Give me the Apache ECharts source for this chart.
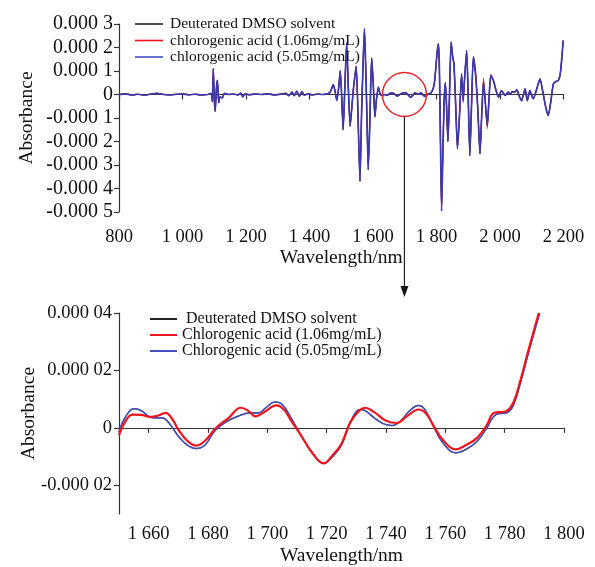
<!DOCTYPE html>
<html><head><meta charset="utf-8">
<script src="https://cdn.jsdelivr.net/npm/echarts@6/dist/echarts.min.js"></script>
<style>html,body{margin:0;padding:0;background:#fff}#c{width:595px;height:567px}</style>
</head><body><div id="c"></div>
<script>
// ---------- Top panel: full spectrum (absorbance in units of 1e-4) ----------
const topWave = [800,820,840,860,880,900,920,940,960,980,1000,1020,1040,1060,1080,1090,1094,1097,1100,1103,1107,1110,1114,1118,1125,1132,1145,1160,1175,1183,1190,1197,1210,1230,1250,1270,1290,1310,1325,1335,1345,1352,1360,1368,1376,1384,1395,1410,1425,1440,1455,1465,1475,1481,1486,1492,1497,1502,1506,1511,1517,1522,1528,1533,1538,1547,1552,1559,1564,1568,1573,1577,1581,1585,1590,1593,1596,1601,1606,1611,1617,1622,1627,1635,1645,1655,1665,1676,1690,1703,1719,1732,1742,1751,1763,1775,1782,1788,1793,1797,1802,1806,1809,1812,1816,1820,1824,1828,1832,1836,1840,1846,1851,1855,1860,1866,1872,1879,1884,1889,1895,1900,1905,1910,1916,1923,1930,1937,1942,1948,1953,1960,1965,1971,1979,1987,1995,2005,2016,2026,2033,2038,2046,2053,2060,2068,2074,2079,2086,2094,2100,2105,2115,2126,2135,2145,2152,2160,2168,2176,2184,2190,2195,2199];
const topSolvent = [0,0.03,-0.02,0.01,-0.03,0.02,0.05,0,-0.02,0.01,0.02,-0.01,0.01,-0.02,0,0.05,-0.3,1.1,-0.2,-0.72,0.3,0.6,-0.35,-0.1,-0.15,0.05,0,0.02,-0.02,0.06,-0.1,0.03,-0.01,0.02,0,0.03,-0.02,0.02,0.05,-0.05,0.1,-0.05,0.14,-0.08,0.12,-0.03,0.03,-0.02,0.02,0,0.02,0.1,0.42,0.1,-0.25,0.3,1.02,-0.3,-1.5,0.2,2.2,0.4,-1.35,-0.6,0.2,1.2,-0.5,-3.7,-0.8,1.0,2.8,1.2,-1.0,-3.2,-1.2,0.5,1.55,0.4,-0.95,-0.2,0.32,0.05,-0.04,0,-0.03,0.06,0.05,-0.07,0.04,0.08,-0.12,0.07,0.01,0.07,-0.08,0.03,0.06,0.2,0.45,1.0,1.8,2.16,1.2,-1.5,-4.95,-2.5,-0.3,0.5,-0.6,-2.0,-0.5,2.23,1.6,1.3,-0.3,-2.3,-1.0,0.88,-0.26,0.8,1.87,-0.2,-2.6,-0.6,1.6,0.88,-0.6,-2.52,-1.0,0.55,-0.2,-1.32,-0.3,0.81,0.6,0.2,-0.11,0.17,-0.04,0.1,0,0.12,0.1,0.2,-0.05,-0.26,0,0.24,-0.26,0.17,-0.05,-0.18,0.2,0.67,0.1,-0.6,-0.89,-0.3,0.45,0.55,0.6,0.9,1.6,2.3];
const topAcid106 = [0,0.03,-0.02,0.01,-0.03,0.02,0.05,0,-0.02,0.01,0.02,-0.01,0.01,-0.02,0,0.05,-0.3,1.1,-0.2,-0.72,0.3,0.6,-0.35,-0.1,-0.15,0.05,0,0.02,-0.02,0.06,-0.1,0.03,-0.01,0.02,0,0.03,-0.02,0.02,0.05,-0.05,0.1,-0.05,0.14,-0.08,0.12,-0.03,0.03,-0.02,0.02,0,0.02,0.1,0.42,0.1,-0.25,0.3,1.02,-0.3,-1.5,0.2,2.2,0.4,-1.35,-0.6,0.2,1.2,-0.5,-3.7,-0.8,1.0,2.8,1.2,-1.0,-3.2,-1.2,0.5,1.55,0.4,-0.95,-0.2,0.32,0.05,-0.04,0,-0.03,0.05,0.05,-0.06,0.05,0.07,-0.12,0.07,0.02,0.06,-0.07,0.03,0.06,0.2,0.45,1.0,1.8,2.16,1.2,-1.5,-4.95,-2.5,-0.3,0.5,-0.6,-2.0,-0.5,2.23,1.6,1.3,-0.3,-2.3,-1.0,0.88,-0.35,0.8,1.87,-0.2,-2.6,-0.6,1.55,0.95,-0.6,-2.55,-1.0,0.7,-0.2,-1.45,-0.3,0.85,0.6,0.2,-0.11,0.17,-0.04,0.1,0,0.12,0.1,0.2,-0.05,-0.26,0,0.24,-0.26,0.17,-0.05,-0.18,0.2,0.67,0.1,-0.6,-0.89,-0.3,0.45,0.55,0.6,0.9,1.6,2.3];
const topAcid505 = topSolvent.slice();

// ---------- Bottom panel: zoom 1650-1800 nm (absorbance in units of 1e-5) ----------
const zoomWave505 = [1650,1652,1655,1657.5,1660,1662,1664.5,1667,1670,1673,1676,1679,1682.5,1687,1690.5,1694,1697,1699.5,1702.5,1705,1708,1711,1715,1719,1722,1725,1728,1731.3,1733,1736,1739,1742,1745,1748,1751,1753,1756,1759,1763.5,1767,1770.7,1774,1777,1781,1783,1785.3,1788,1791.8];
const zoomAcid505 = [-0.15,0.35,0.67,0.6,0.4,0.35,0.35,0.15,-0.29,-0.6,-0.72,-0.6,-0.08,0.26,0.42,0.52,0.52,0.7,0.9,0.82,0.35,-0.2,-0.85,-1.24,-1.0,-0.6,0.2,0.64,0.6,0.35,0.15,0.08,0.25,0.6,0.78,0.65,0.06,-0.5,-0.87,-0.75,-0.47,0.0,0.46,0.54,0.8,1.56,2.6,4.0];
const zoomWave106 = [1650,1652,1654.5,1657.5,1660.5,1663,1665.7,1668,1670,1673,1676,1679,1682.5,1687,1691,1693.5,1696,1699,1703,1705.5,1708,1711,1715,1719,1722,1725,1728,1731,1733,1736,1740,1743.7,1747,1751,1753.5,1756,1759,1763.5,1767,1770.7,1774,1776.3,1780.5,1783,1785.3,1788,1791.5];
const zoomAcid106 = [-0.25,0.2,0.46,0.45,0.38,0.42,0.52,0.3,-0.06,-0.45,-0.62,-0.45,-0.02,0.35,0.7,0.6,0.4,0.55,0.78,0.65,0.25,-0.2,-0.85,-1.24,-0.95,-0.55,0.2,0.6,0.7,0.55,0.25,0.17,0.4,0.64,0.5,0.08,-0.4,-0.75,-0.6,-0.35,0.1,0.52,0.58,0.9,1.65,2.7,4.0];
const zoomSolvent = zoomAcid505.slice();

const zoomXTicks = [1660,1680,1700,1720,1740,1760,1780,1800];
const zoomYTicks = [-2,0,2,4];

const namesTop = ['Deuterated DMSO solvent','chlorogenic acid (1.06mg/mL)','chlorogenic acid (5.05mg/mL)'];
const namesZoom = [' Deuterated DMSO solvent','Chlorogenic acid (1.06mg/mL)','Chlorogenic acid (5.05mg/mL)'];

const FONT = "'Liberation Serif','Times New Roman',serif";
const BLACK = '#222', RED = '#f0141e', BLUE = '#4050c0', NAVY = '#3a3aae';
const pairs = (xs, ys) => xs.map((x, i) => [x, ys[i]]);
const fmtNm = v => v >= 1000 ? Math.floor(v/1000) + ' ' + String(v % 1000).padStart(3,'0') : String(v);
const fmtTop = v => v === 0 ? '0' : (v < 0 ? '-' : '') + '0.000 ' + Math.abs(v);
const fmtZoom = v => v === 0 ? '0' : (v < 0 ? '-' : '') + '0.000 0' + Math.abs(v);

const axisCommon = {
  axisLine: {lineStyle: {color: '#333', width: 1.2}},
  axisTick: {lineStyle: {color: '#333', width: 1.2}, length: 5, inside: false},
  splitLine: {show: false},
  nameTextStyle: {fontFamily: FONT, fontSize: 19.5, color: '#111'}
};
const lbl = (size, margin, extra) => Object.assign({fontFamily: FONT, fontSize: size, color: '#111', margin: margin}, extra);

const chart = echarts.init(document.getElementById('c'), null, {renderer: 'canvas'});
chart.setOption({
  animation: false,
  backgroundColor: '#fff',
  grid: [
    {left: 119, top: 24, width: 444.5, height: 188},
    {left: 119, top: 313, width: 445, height: 202}
  ],
  xAxis: [
    Object.assign({}, axisCommon, {type: 'value', gridIndex: 0, min: 800, max: 2200, interval: 200,
      name: 'Wavelength/nm', nameLocation: 'middle', nameGap: 36,
      axisLabel: lbl(18.5, 16, {formatter: fmtNm})}),
    Object.assign({}, axisCommon, {type: 'value', gridIndex: 1, min: 1650, max: 1800,
      name: 'Wavelength/nm', nameLocation: 'middle', nameGap: 32,
      axisTick: Object.assign({}, axisCommon.axisTick, {customValues: zoomXTicks}),
      axisLabel: lbl(18.5, 11, {customValues: zoomXTicks, formatter: fmtNm})})
  ],
  yAxis: [
    Object.assign({}, axisCommon, {type: 'value', gridIndex: 0, min: -5, max: 3, interval: 1,
      name: 'Absorbance', nameLocation: 'middle', nameGap: 82, nameRotate: 90, nameMoveOverlap: false,
      axisLabel: lbl(20, 6, {formatter: fmtTop})}),
    Object.assign({}, axisCommon, {type: 'value', gridIndex: 1, min: -3, max: 4,
      name: 'Absorbance', nameLocation: 'middle', nameGap: 80, nameRotate: 90, nameMoveOverlap: false,
      axisTick: Object.assign({}, axisCommon.axisTick, {customValues: zoomYTicks}),
      axisLabel: lbl(18.5, 7, {customValues: zoomYTicks, formatter: fmtZoom})})
  ],
  legend: [
    {orient: 'vertical', left: 135, top: 16, padding: 0, itemWidth: 28, itemHeight: 1.6, itemGap: 0.5, icon: 'rect',
      data: namesTop, textStyle: {fontFamily: FONT, fontSize: 15.5, lineHeight: 15, color: '#111', padding: [0, 0, 0, 2]}},
    {orient: 'vertical', left: 150, top: 311, padding: 0, itemWidth: 27, itemHeight: 2, itemGap: 0, icon: 'rect',
      data: namesZoom, textStyle: {fontFamily: FONT, fontSize: 16, lineHeight: 15, color: '#111'}}
  ],
  series: [
    {name: namesTop[0], type: 'line', xAxisIndex: 0, yAxisIndex: 0, data: pairs(topWave, topSolvent), symbol: 'none', smooth: 0.2, lineStyle: {color: BLACK, width: 1.1}, itemStyle: {color: BLACK}},
    {name: namesTop[1], type: 'line', xAxisIndex: 0, yAxisIndex: 0, data: pairs(topWave, topAcid106), symbol: 'none', smooth: 0.2, lineStyle: {color: RED, width: 1.1}, itemStyle: {color: RED}},
    {name: namesTop[2], type: 'line', xAxisIndex: 0, yAxisIndex: 0, data: pairs(topWave, topAcid505), symbol: 'none', smooth: 0.2, lineStyle: {color: NAVY, width: 1.7}, itemStyle: {color: BLUE}},
    {name: namesZoom[0], type: 'line', xAxisIndex: 1, yAxisIndex: 1, data: pairs(zoomWave505, zoomSolvent), symbol: 'none', smooth: 0.4, lineStyle: {color: BLACK, width: 1.2}, itemStyle: {color: BLACK}},
    {name: namesZoom[2], type: 'line', xAxisIndex: 1, yAxisIndex: 1, data: pairs(zoomWave505, zoomAcid505), symbol: 'none', smooth: 0.4, lineStyle: {color: BLUE, width: 1.4}, itemStyle: {color: BLUE}},
    {name: namesZoom[1], type: 'line', xAxisIndex: 1, yAxisIndex: 1, data: pairs(zoomWave106, zoomAcid106), symbol: 'none', smooth: 0.4, lineStyle: {color: RED, width: 2.2}, itemStyle: {color: RED}}
  ]
});

// annotation: circle around 1700 nm in top panel, arrow pointing to zoom panel
const c = chart.convertToPixel({gridIndex: 0}, [1699, 0]);
const zTop = chart.convertToPixel({gridIndex: 1}, [1650, 4])[1];
const r = 22;
const tipY = zTop - 16;
chart.setOption({
  graphic: [
    {type: 'circle', shape: {cx: c[0], cy: c[1], r: r}, style: {fill: 'none', stroke: '#e8262b', lineWidth: 1.5}, z: 100},
    {type: 'line', shape: {x1: c[0], y1: c[1] + r, x2: c[0], y2: tipY - 8}, style: {stroke: '#222', lineWidth: 1.2}, z: 100},
    {type: 'polygon', shape: {points: [[c[0] - 4, tipY - 11], [c[0] + 4, tipY - 11], [c[0], tipY]]}, style: {fill: '#111'}, z: 100}
  ]
});
</script>
</body></html>
